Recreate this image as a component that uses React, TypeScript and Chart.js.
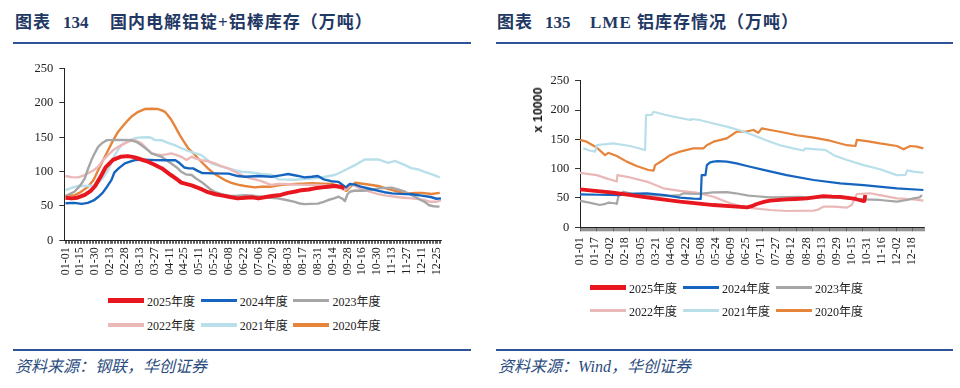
import React, { useEffect, useRef } from 'react';
import { Chart, registerables } from 'chart.js';
Chart.register(...registerables);

const seriesNames = ['2025年度', '2024年度', '2023年度', '2022年度', '2021年度', '2020年度'];
const seriesColors = ['#E8161E', '#1565C0', '#A6A6A6', '#EBB8B8', '#B8DFEA', '#E5843A'];

const yTickValues = [0, 50, 100, 150, 200, 250];

const leftXLabels = ['01-01', '01-15', '01-30', '02-13', '02-28', '03-13', '03-27', '04-11', '04-25', '05-11', '05-25', '06-08', '06-22', '07-06', '07-20', '08-03', '08-17', '08-31', '09-14', '09-28', '10-16', '10-30', '11-13', '11-27', '12-11', '12-25'];
const rightXLabels = ['01-01', '01-17', '02-02', '02-18', '03-05', '03-21', '04-06', '04-22', '05-08', '05-24', '06-09', '06-25', '07-11', '07-27', '08-12', '08-28', '09-13', '09-29', '10-15', '10-31', '11-16', '12-02', '12-18'];

// Left chart: 国内电解铝锭+铝棒库存 (x = trading-day index, y = 万吨)
const left2025 = [[0, 62], [4, 61], [8, 62], [13, 66], [17, 72], [20, 79], [24, 94], [27, 106], [32, 117], [37, 121.5], [42, 122.5], [46, 121], [49, 119], [56, 114], [60, 110], [65, 104.5], [71, 95], [75, 89], [78, 84], [85, 80], [92, 74], [96, 70], [101, 67], [106, 65], [110, 63.5], [116, 61], [121, 62], [126, 62.5], [130, 61], [135, 63], [139, 64.4], [145, 66], [150, 69], [155, 71], [159, 73], [164, 74], [168, 75.6], [173, 77], [177, 78], [181, 79], [185, 78], [188, 76]];
const left2024 = [[0, 54], [6, 54.5], [11, 53], [15, 54.5], [19, 58], [22, 63], [25, 69], [28, 78], [31, 88], [33, 99], [36, 105], [40, 112], [44, 115], [47, 116.7], [53, 117.4], [60, 116.7], [67, 116.5], [74, 116.7], [77, 112], [80, 106], [83, 104.6], [86, 104.6], [89, 101], [92, 98], [100, 97.4], [110, 97], [116, 93.5], [121, 92.5], [130, 93.5], [139, 92.5], [145, 94.5], [150, 96.4], [156, 94], [161, 91.6], [166, 92.5], [170, 93.5], [174, 88.7], [179, 86], [184, 85], [187, 80], [189, 77], [191.6, 82], [195, 81], [199, 78], [205, 75], [211, 72], [215, 70], [220, 68.3], [226, 67.5], [233, 67], [240, 65], [246, 63], [250, 60.5], [253, 61]];
const left2023 = [[0, 64.4], [6, 70.7], [10, 80], [13, 90], [15, 103], [17.5, 116.7], [20, 128], [22, 136], [25, 142], [28, 145.8], [35, 146], [44, 145.8], [48, 143], [51, 138.5], [55, 132], [58, 126.5], [64.7, 121.5], [71, 112], [75, 106], [78, 99.7], [81, 96], [85, 95], [88, 90], [91.6, 85], [95, 79], [98.4, 73], [101, 70], [105, 67], [110, 65], [114, 64.4], [121, 65.8], [126, 65], [132, 63.4], [138, 62], [143, 61], [148, 59], [154.5, 56], [158, 53.5], [161, 52.6], [165, 53], [170, 53.3], [174, 56], [177, 58.6], [181, 61], [184, 63.4], [187, 60], [188.3, 57], [190, 67], [191.6, 70.7], [195, 72.5], [200, 72], [205, 73], [210.7, 75.6], [219.7, 76.7], [224, 74], [228.7, 70.7], [232, 67], [235.4, 63.4], [239, 59], [242, 56], [245, 51], [248, 49.5], [252, 49]];
const left2022 = [[0, 93.5], [4, 92], [8.5, 91.6], [12, 94], [15, 97.4], [19, 102], [22, 107], [25, 116], [28.7, 124], [32, 131], [35.5, 136], [39, 140], [42, 143.3], [46.7, 145.8], [51.2, 141], [55, 133], [58, 126.5], [61, 125], [64.7, 124], [68, 125], [71.4, 126.5], [75, 124], [78, 121.5], [81.5, 116.7], [85, 121.5], [88, 119], [91.6, 116.7], [96, 115], [100.6, 112], [105, 108], [109.6, 104.6], [114, 100], [118.6, 95], [123, 91], [127.6, 88.7], [132, 86], [138.8, 80.4], [143, 82], [148, 82], [156, 81], [166, 80.4], [175, 80], [181.5, 79], [185, 76], [188.2, 73], [190, 76], [192.7, 82], [197, 77], [201.7, 73], [206, 70], [210.7, 67.3], [216, 65], [222, 63.4], [228, 62], [233, 61], [238, 60], [242, 58.6], [246, 56], [250, 56], [253, 58.6]];
const left2021 = [[0, 73], [5, 77], [8.5, 79], [15, 79], [19, 80], [22, 83.7], [25, 90], [28.7, 102], [31, 113], [33.2, 124], [35.5, 132], [37.7, 138.5], [41, 143], [44.5, 146.8], [48, 149], [51.2, 149.7], [56, 150], [58, 149], [60.2, 145.8], [65, 145.5], [70, 141], [73.7, 138.5], [78, 134], [82.6, 130], [87, 127], [91.6, 124], [95, 118], [98.4, 112], [104, 108], [109.6, 104.6], [114, 102], [118.6, 99.7], [124, 99], [132, 96.4], [138.8, 95.5], [143.3, 88.7], [154.5, 88.2], [165.8, 90], [174.7, 92.5], [181.5, 95], [188.2, 102], [195, 109.4], [201.7, 117.6], [210.7, 117.6], [217.4, 112.6], [222, 115.7], [228, 110], [233, 105], [238, 103], [242, 99.7], [247, 96], [252.2, 91.6]];
const left2020 = [[0, 64.4], [6.3, 65.8], [10, 70], [15.2, 78], [19, 88], [22, 102], [25, 115], [28.7, 131], [32, 145], [35.5, 158], [39, 167], [42.2, 175], [45, 181], [49, 187], [53.4, 191], [58, 191.5], [62.4, 191], [65, 189], [67, 187], [69, 182], [71.4, 175], [74, 165], [77, 153], [80, 143], [82.6, 134], [86, 127], [89.4, 119], [93, 111], [96, 104.6], [99.5, 98], [102.8, 93.5], [107, 88], [111.8, 83.7], [116, 81], [120.8, 79], [127.6, 77], [132, 78], [138, 78], [143.3, 80], [148, 81], [154.5, 82], [160, 82.5], [165.8, 83], [173, 82.5], [179.3, 82], [183, 80], [186, 75.6], [189.3, 72], [192, 78], [195, 83.7], [201.7, 82], [210.7, 79], [216, 75.5], [222, 72], [227, 70], [231, 68.3], [236, 69], [240, 69], [246.6, 67.3], [252.2, 69]];

// Right chart: LME 铝库存 (x = day of year index, y = 万吨)
const right2025 = [[0, 64.8], [35, 59], [70.7, 51], [106, 43.8], [141.5, 38], [166, 35.2], [177, 34], [182, 36], [187.4, 39.8], [196, 43.7], [201.6, 45.5], [219, 47.7], [228, 48.3], [240.5, 49.4], [258, 53], [267, 52.2], [276, 52], [292, 48.3], [300, 44.8], [301.5, 45], [302.4, 55]];
const right2024 = [[0, 56], [20, 55.5], [42, 55], [50, 57], [70.8, 58], [90, 55], [106, 50.5], [120, 49], [128, 48.5], [129, 89], [133, 89], [134.5, 106], [138, 110.8], [141.5, 112], [146, 113], [155.6, 112], [166, 109], [177, 104.5], [198, 96.6], [219, 89], [247.6, 80.7], [276, 75], [300.6, 72], [336, 66.5], [364, 63.6]];
const right2023 = [[0, 45], [10, 42], [21, 38], [27, 40], [30, 42], [37, 41], [39, 40], [41, 55], [46, 60.7], [55, 57], [70.7, 54], [77.8, 55], [92, 53.4], [106, 55], [110, 58], [124, 56.8], [141.5, 59.7], [155.6, 60], [165, 58], [178.6, 54], [184, 53.4], [201.6, 51], [230, 52], [247.6, 51], [265, 51], [283, 49.4], [300.6, 47.7], [318, 46.6], [336, 43.8], [346.6, 46.6], [353.7, 49.4], [360, 51], [362.5, 55]];
const right2022 = [[0, 93], [17.7, 89], [28, 83.5], [39, 78], [39.6, 89], [53, 85], [70.7, 78], [88.4, 66.5], [106, 62], [124, 59], [141.5, 52], [159, 41], [177, 33.5], [201.6, 29.5], [219, 27.8], [247.6, 28.4], [252, 30], [258, 35.2], [269, 35.2], [283, 33.5], [288, 38], [293.5, 56.8], [307.7, 58], [318, 55], [336, 49.4], [353.7, 47.7], [364, 45.5]];
const right2021 = [[3.5, 134.7], [10, 131], [16, 129], [18, 140], [28, 142], [35, 143], [53, 138.6], [69, 131.8], [70, 191.5], [76, 191.5], [78, 197], [85, 194], [99, 188.6], [117, 183], [118.5, 184.7], [127, 183], [141.5, 177], [155.6, 171.6], [170, 165], [184, 157], [198, 148], [212, 140], [226, 134.7], [237, 131], [239, 134.7], [251, 133], [260, 132], [269, 123], [283, 114.8], [300.6, 106], [318, 99], [336, 89], [345, 89.5], [347, 97], [353.7, 95], [364, 93]];
const right2020 = [[0, 149], [7, 146], [17.7, 136], [26.5, 123], [30, 127], [39, 121.6], [49.5, 112], [60, 104.5], [72.5, 97.7], [78, 96.6], [79.6, 106], [88.4, 114.8], [95.5, 123], [106, 129], [120, 134.7], [131, 134.7], [134.4, 140], [141.5, 146], [155.6, 151.7], [166, 163], [175, 163], [184, 166], [189, 161], [192.7, 168.8], [201.6, 166], [212, 163], [230, 157], [247.6, 152.8], [265, 147.7], [283, 140], [292, 138.6], [293.5, 149], [304, 147], [318, 143], [336, 138.6], [343, 133], [350, 138.6], [357, 137.5], [364, 134.7]];

const leftSeries = [left2025, left2024, left2023, left2022, left2021, left2020];
const rightSeries = [right2025, right2024, right2023, right2022, right2021, right2020];

const SERIF = '"Liberation Serif", "Times New Roman", "Noto Sans CJK SC", serif';
const CJK = '"Liberation Serif", "Noto Sans CJK SC", serif';
const TITLE_COLOR = '#1F3864';
const RULE_COLOR = '#2F5496';
const SOURCE_COLOR = '#2B4C7E';

type Cfg = {
  series: number[][][];
  widths: number[];
  xLabels: string[];
  step: number;
  count: number;
  xMin: number;
  xMax: number;
  pad: { left: number; top: number; right: number; bottom: number };
  yWidth: number;
  xHeight: number;
  xTickLen: number;
  xTickWidth: number;
  xPad: number;
  yTickLen: number;
  yPad: number;
};

function LineChart({ cfg }: { cfg: Cfg }) {
  const ref = useRef<HTMLCanvasElement | null>(null);
  useEffect(() => {
    if (!ref.current) return;
    const chart = new Chart(ref.current, {
      type: 'line',
      data: {
        datasets: cfg.series.map((s, i) => ({
          label: seriesNames[i],
          data: s.map(([x, y]) => ({ x, y })),
          borderColor: seriesColors[i],
          backgroundColor: seriesColors[i],
          borderWidth: cfg.widths[i],
          pointRadius: 0,
          tension: 0,
          fill: false,
          borderJoinStyle: 'round' as const,
        })),
      },
      options: {
        animation: false,
        responsive: true,
        maintainAspectRatio: false,
        layout: { padding: cfg.pad },
        plugins: { legend: { display: false }, tooltip: { enabled: false } },
        scales: {
          x: {
            type: 'linear',
            min: cfg.xMin,
            max: cfg.xMax,
            afterBuildTicks: (scale: any) => {
              scale.ticks = Array.from({ length: cfg.count }, (_, i) => ({ value: i }));
            },
            afterFit: (scale: any) => {
              scale.height = cfg.xHeight;
            },
            ticks: {
              autoSkip: false,
              minRotation: 90,
              maxRotation: 90,
              padding: cfg.xPad,
              color: '#222',
              font: { family: SERIF, size: 12 },
              callback: (v: any) => {
                const i = Math.round(Number(v));
                return i % cfg.step === 0 ? cfg.xLabels[i / cfg.step] ?? '' : '';
              },
            },
            grid: {
              display: true,
              drawOnChartArea: false,
              drawTicks: true,
              tickLength: cfg.xTickLen,
              color: '#3a3a3a',
              tickWidth: cfg.xTickWidth,
              lineWidth: cfg.xTickWidth,
            },
            border: { display: true, color: '#222', width: 1 },
          },
          y: {
            type: 'linear',
            min: 0,
            max: 250,
            afterBuildTicks: (scale: any) => {
              scale.ticks = yTickValues.map((v) => ({ value: v }));
            },
            afterFit: (scale: any) => {
              scale.width = cfg.yWidth;
            },
            ticks: {
              padding: cfg.yPad,
              color: '#222',
              font: { family: SERIF, size: 12.5 },
            },
            grid: {
              display: true,
              drawOnChartArea: false,
              drawTicks: true,
              tickLength: cfg.yTickLen,
              color: '#333',
            },
            border: { display: true, color: '#222', width: 1 },
          },
        },
      },
    } as any);
    return () => chart.destroy();
  }, [cfg]);
  return <canvas ref={ref} />;
}

function Legend({ x0, dx, rowYs }: { x0: number; dx: number; rowYs: number[] }) {
  const items: React.ReactNode[] = [];
  seriesNames.forEach((name, i) => {
    const row = Math.floor(i / 3);
    const col = i % 3;
    items.push(
      <div
        key={name}
        style={{
          position: 'absolute',
          left: x0 + col * dx,
          top: rowYs[row] - 8,
          height: 16,
          display: 'flex',
          alignItems: 'center',
          whiteSpace: 'nowrap',
          fontFamily: CJK,
          fontSize: 12,
          color: '#222',
        }}
      >
        <span style={{ display: 'inline-block', width: 36, height: i === 0 ? 4.5 : 3.5, background: seriesColors[i], marginRight: 3 }} />
        <span>{name}</span>
      </div>
    );
  });
  return <>{items}</>;
}

const leftCfg: Cfg = {
  series: leftSeries,
  widths: [4, 2.4, 2.4, 2.4, 2.4, 2.4],
  xLabels: leftXLabels,
  step: 10,
  count: 254,
  xMin: -0.8,
  xMax: 253.5,
  pad: { left: 0, top: 13.3, right: 38.3, bottom: 4.7 },
  yWidth: 64.3,
  xHeight: 40,
  xTickLen: 3.5,
  xTickWidth: 0.8,
  xPad: 3.5,
  yTickLen: 5,
  yPad: 6,
};

const rightCfg: Cfg = {
  series: rightSeries,
  widths: [3.8, 2.2, 2.2, 2.2, 2.2, 2.2],
  xLabels: rightXLabels,
  step: 16,
  count: 366,
  xMin: 0,
  xMax: 365,
  pad: { left: 0, top: 25.7, right: 35.7, bottom: 17.7 },
  yWidth: 100,
  xHeight: 40,
  xTickLen: 4,
  xTickWidth: 0.55,
  xPad: 6,
  yTickLen: 5,
  yPad: 5.7,
};

function Title({ x, num, numX, text, textX }: { x: number; num: string; numX: number; text: string; textX: number }) {
  const base: React.CSSProperties = {
    position: 'absolute',
    top: 14,
    lineHeight: '18px',
    fontSize: 17,
    fontWeight: 'bold',
    color: TITLE_COLOR,
    whiteSpace: 'nowrap',
    fontFamily: CJK,
  };
  return (
    <>
      <div style={{ ...base, left: x, letterSpacing: 1 }}>图表</div>
      <div style={{ ...base, left: numX }}>{num}</div>
      <div style={{ ...base, left: textX, letterSpacing: 1 }}>{text}</div>
    </>
  );
}

export default function App() {
  return (
    <div style={{ position: 'absolute', left: 0, top: 0, width: 960, height: 388, background: '#fff', overflow: 'hidden' }}>
      <Title x={15} num="134" numX={63} text="国内电解铝锭+铝棒库存（万吨）" textX={110} />
      <Title x={497} num="135" numX={545} text="LME 铝库存情况（万吨）" textX={590} />
      <div style={{ position: 'absolute', left: 13, top: 41.7, width: 458, height: 2, background: RULE_COLOR }} />
      <div style={{ position: 'absolute', left: 496, top: 41.7, width: 457, height: 2, background: RULE_COLOR }} />

      <div style={{ position: 'absolute', left: 0, top: 55, width: 480, height: 230 }}>
        <LineChart cfg={leftCfg} />
      </div>
      <div style={{ position: 'absolute', left: 480, top: 55, width: 480, height: 230 }}>
        <LineChart cfg={rightCfg} />
      </div>
      <div
        style={{
          position: 'absolute',
          left: 538,
          top: 110,
          transform: 'translate(-50%, -50%) rotate(-90deg)',
          fontFamily: '"Liberation Sans", Arial, sans-serif',
          fontWeight: 'bold',
          fontSize: 12.5,
          whiteSpace: 'nowrap',
          color: '#111',
        }}
      >
        x 10000
      </div>

      <Legend x0={108} dx={92.7} rowYs={[300.7, 325]} />
      <Legend x0={590} dx={93} rowYs={[287.7, 310.7]} />

      <div style={{ position: 'absolute', left: 13, top: 349, width: 458, height: 2, background: RULE_COLOR }} />
      <div style={{ position: 'absolute', left: 496, top: 349, width: 457, height: 2, background: RULE_COLOR }} />
      <div style={{ position: 'absolute', left: 15, top: 358.5, lineHeight: '16px', fontSize: 16, fontStyle: 'italic', color: SOURCE_COLOR, fontFamily: CJK, whiteSpace: 'nowrap' }}>
        资料来源：钢联，华创证券
      </div>
      <div style={{ position: 'absolute', left: 498, top: 358.5, lineHeight: '16px', fontSize: 16, fontStyle: 'italic', color: SOURCE_COLOR, fontFamily: CJK, whiteSpace: 'nowrap' }}>
        资料来源：Wind，华创证券
      </div>
    </div>
  );
}
